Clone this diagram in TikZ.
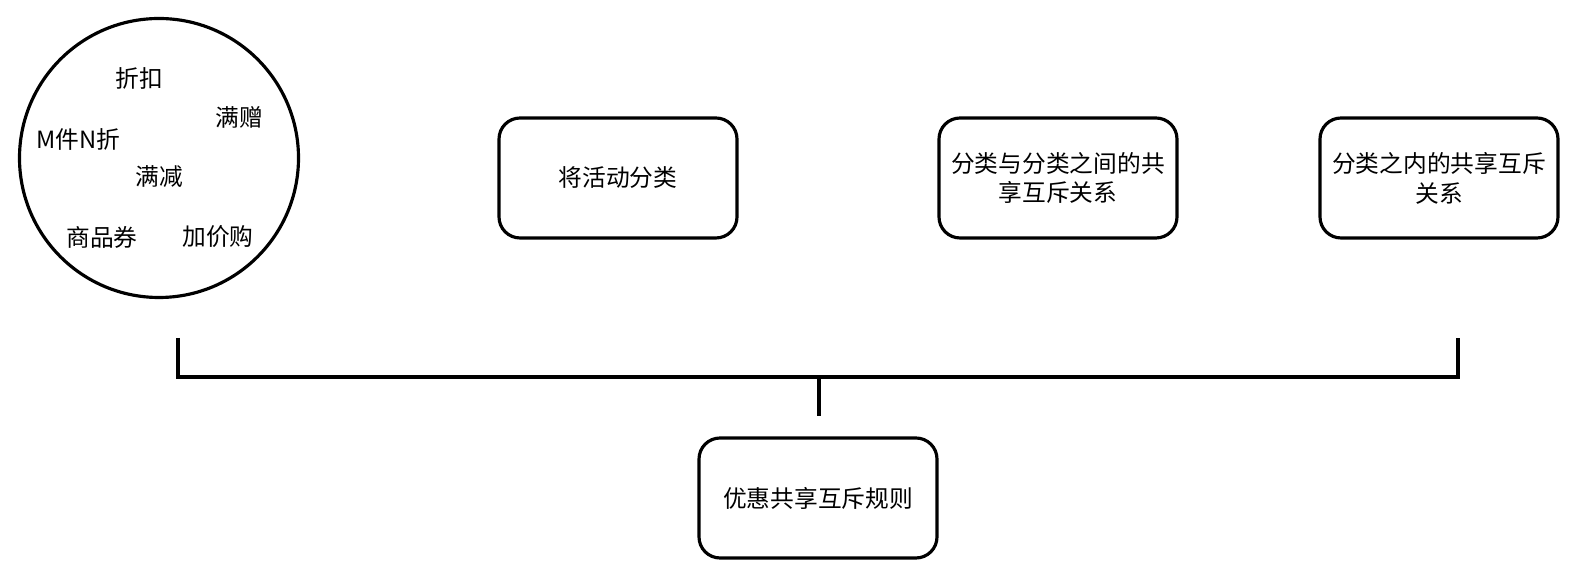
\documentclass[tikz,border=0pt]{standalone}
\usepackage{fontspec}
\setmainfont{Noto Sans CJK SC}
\usepackage{tikz}
\usetikzlibrary{positioning, calc}
\definecolor{bordercolor}{RGB}{0,0,0}
\tikzset{
  base/.style={draw=bordercolor, line width=1.8pt, align=center,
               font=\fontsize{13.5}{17}\selectfont},
  pool/.style    = {base, circle, minimum size=5.58cm, inner sep=0pt},
  kind/.style    = {font=\fontsize{13.5}{17}\selectfont, inner sep=1pt},
  task/.style    = {base, rounded corners=12pt, minimum width=4.76cm, minimum height=2.4cm},
  bracket/.style = {line width=1.9pt, color=bordercolor},
}
\begin{document}
\begin{tikzpicture}
  \useasboundingbox (0,0) rectangle (31.52,11.52);

  % activity pool
  \node[pool] (pool) at (3.18,8.36) {};
  \node[kind] (zk)   at (2.78,9.96) {折扣};
  \node[kind] (mz)   at (4.78,9.18) {满赠};
  \node[kind] (mnz)  at (1.56,8.74) {M件N折};
  \node[kind] (mj)   at (3.18,7.98) {满减};
  \node[kind] (spq)  at (2.04,6.78) {商品券};
  \node[kind] (jjg)  at (4.36,6.78) {加价购};

  % steps
  \node[task] (classify) at (12.36,7.96) {将活动分类};
  \node[task] (between)  at (21.16,7.96) {分类与分类之间的共\\享互斥关系};
  \node[task] (within)   at (28.78,7.96) {分类之内的共享互斥\\关系};
  \node[task] (rule)     at (16.36,1.56) {优惠共享互斥规则};

  % bracket
  \coordinate (lt) at (3.56,4.76);
  \coordinate (lb) at (3.56,3.98);
  \coordinate (rb) at (29.16,3.98);
  \coordinate (rt) at (29.16,4.76);
  \coordinate (mt) at (16.38,3.98);
  \coordinate (mb) at (16.38,3.20);
  \draw[bracket] (lt) -- (lb) -- (rb) -- (rt);
  \draw[bracket] (mt) -- (mb);
\end{tikzpicture}
\end{document}
